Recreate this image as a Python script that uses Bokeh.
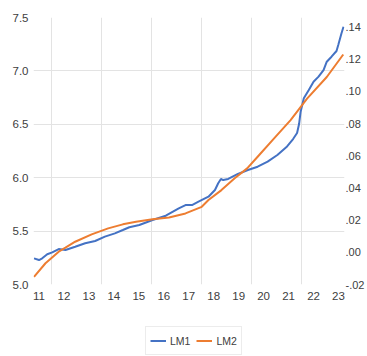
from bokeh.plotting import figure
from bokeh.layouts import column
from bokeh.models import (LinearAxis, Range1d, FixedTicker, CustomJSTickFormatter,
                          Legend, LegendItem)
from bokeh.embed import file_html
from bokeh.resources import INLINE

# ---- data (x in years since 2000) ----
lm1_x = [10.80, 11.00, 11.13, 11.33, 11.53, 11.79, 12.06, 12.45, 12.85, 13.25,
         13.64, 14.04, 14.36, 14.62, 15.02, 15.55, 16.08, 16.60, 16.87, 17.13,
         17.39, 17.79, 18.05, 18.18, 18.29, 18.38, 18.58, 18.97, 19.37, 19.76,
         20.16, 20.55, 20.94, 21.18, 21.34, 21.42, 21.48, 21.61, 21.81, 22.00,
         22.20, 22.40, 22.53, 22.72, 22.92, 22.99, 23.12, 23.20]
lm1_y = [5.245, 5.229, 5.245, 5.283, 5.301, 5.332, 5.323, 5.354, 5.386, 5.407,
         5.448, 5.479, 5.510, 5.536, 5.557, 5.604, 5.644, 5.713, 5.744, 5.744,
         5.775, 5.822, 5.885, 5.948, 5.988, 5.978, 5.988, 6.035, 6.072, 6.103,
         6.150, 6.213, 6.293, 6.362, 6.418, 6.502, 6.615, 6.743, 6.821, 6.899,
         6.946, 7.008, 7.086, 7.133, 7.186, 7.243, 7.352, 7.414]

lm2_x = [10.80, 11.26, 11.79, 12.06, 12.45, 13.11, 13.77, 14.36, 14.89, 15.55,
         16.21, 16.87, 17.52, 17.79, 18.31, 18.84, 19.34, 19.76, 20.42, 21.08,
         21.74, 22.53, 23.19]
lm2_y = [-0.0152, -0.0068, 0.0004, 0.0029, 0.0066, 0.0112, 0.0149, 0.0174, 0.0190,
         0.0205, 0.0217, 0.0242, 0.0283, 0.0325, 0.0387, 0.0460, 0.0522, 0.0594,
         0.0708, 0.0822, 0.0956, 0.1090, 0.1230]

year_ticks = [11, 12, 13, 14, 15, 16, 17, 18, 19, 20, 21, 22, 23]
left_ticks = [5.0, 5.5, 6.0, 6.5, 7.0, 7.5]
right_ticks = [-0.02, 0.0, 0.02, 0.04, 0.06, 0.08, 0.10, 0.12, 0.14]
series_names = ["LM1", "LM2"]

FONT = "Liberation Sans"
TXT = "#404040"
GRID = "#e3e3e3"
BLUE = "#4472C4"
ORANGE = "#ED7D31"

p = figure(width=367, height=310, output_backend="svg", toolbar_location=None,
           x_range=Range1d(10.78, 23.24), y_range=Range1d(5.0, 7.5),
           min_border_left=33, min_border_right=19, min_border_top=17,
           min_border_bottom=26)
p.outline_line_color = None

p.extra_y_ranges = {"right": Range1d(-0.02, 0.146)}
raxis = LinearAxis(y_range_name="right")
p.add_layout(raxis, "right")

for ax in [p.xaxis[0], p.yaxis[0], raxis]:
    ax.axis_line_color = None
    ax.major_tick_line_color = None
    ax.minor_tick_line_color = None
    ax.major_tick_out = 0
    ax.major_tick_in = 0
    ax.minor_tick_out = 0
    ax.minor_tick_in = 0
    ax.major_label_text_font = FONT
    ax.major_label_text_font_size = "11.5px"
    ax.major_label_text_color = TXT

p.xaxis[0].ticker = FixedTicker(ticks=year_ticks)
p.xaxis[0].major_label_standoff = 7
p.yaxis[0].ticker = FixedTicker(ticks=left_ticks)
p.yaxis[0].formatter = CustomJSTickFormatter(code="return tick.toFixed(1);")
p.yaxis[0].major_label_standoff = 5
raxis.ticker = FixedTicker(ticks=right_ticks)
raxis.formatter = CustomJSTickFormatter(
    code="var s = tick.toFixed(2); return s.replace('0.', '.');")
raxis.major_label_standoff = 1
raxis.major_label_text_font_size = "11px"

p.xgrid.ticker = FixedTicker(ticks=[11.5, 13.5, 15.5, 17.5, 19.5, 21.5])
p.ygrid.ticker = FixedTicker(ticks=[5.5, 6.0, 6.5, 7.0])
p.xgrid.grid_line_color = GRID
p.ygrid.grid_line_color = GRID

p.line(lm1_x, lm1_y, line_color=BLUE, line_width=2)
p.line(lm2_x, lm2_y, line_color=ORANGE, line_width=2, y_range_name="right")

# legend strip below the chart
lg = figure(width=367, height=46, output_backend="svg", toolbar_location=None,
            x_range=Range1d(0, 1), y_range=Range1d(0, 1),
            min_border=0, x_axis_type=None, y_axis_type=None)
lg.outline_line_color = None
lg.xgrid.visible = False
lg.ygrid.visible = False
nan = float("nan")
d1 = lg.line([nan, nan], [nan, nan], line_color=BLUE, line_width=2)
d2 = lg.line([nan, nan], [nan, nan], line_color=ORANGE, line_width=2)

legend = Legend(items=[LegendItem(label=series_names[0], renderers=[d1]),
                       LegendItem(label=series_names[1], renderers=[d2])],
                orientation="horizontal", location=(112, 1),
                label_text_font=FONT, label_text_font_size="10.5px",
                label_text_color=TXT, glyph_width=16, glyph_height=19,
                label_height=19, label_standoff=4, spacing=6, padding=4,
                margin=0, border_line_color="#d9d9d9",
                background_fill_color="white", background_fill_alpha=1.0)
lg.add_layout(legend, "center")

layout = column(p, lg, spacing=0)
open("out.html", "w").write(file_html(layout, INLINE))
